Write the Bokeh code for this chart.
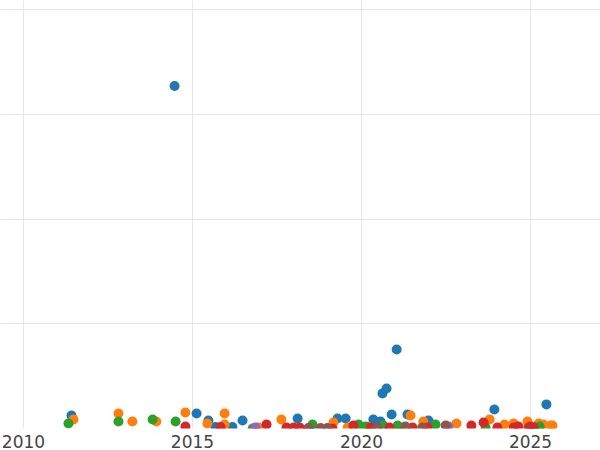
from bokeh.plotting import figure
from bokeh.models import Range1d, FixedTicker
from bokeh.embed import file_html
from bokeh.resources import INLINE

# --- data (decimal year, value) ---
blue_x = [2011.42, 2014.47, 2015.12, 2015.47, 2015.68, 2016.18, 2016.48, 2018.11, 2019.29, 2019.53,
          2020.35, 2020.56, 2020.62, 2020.74, 2020.89, 2021.04, 2021.36, 2021.98, 2023.93, 2025.47]
blue_y = [12.4, 327, 14.3, 7.6, 1.5, 1.5, 7.6, 9.6, 9.6, 9.6,
          8.6, 6.7, 33.5, 38.2, 13.4, 75.5, 13.4, 7.6, 18.2, 23]

orange_x = [2011.48, 2012.81, 2013.22, 2013.93, 2014.79, 2015.44, 2015.95, 2015.95, 2016.95, 2017.63,
            2019.17, 2019.59, 2020.21, 2021.15, 2021.45, 2021.83, 2022.81, 2023.79, 2024.23, 2024.50,
            2024.91, 2025.24, 2025.38, 2025.59, 2025.65]
orange_y = [8.6, 14.3, 6.7, 6.7, 15.3, 4.8, 14.3, 3.8, 1.0, 8.6,
            5.7, 1.0, 1.5, 1.0, 12.4, 6.7, 4.8, 8.6, 3.8, 4.8,
            6.7, 4.8, 3.8, 2.9, 2.9]

green_x = [2011.33, 2012.81, 2013.82, 2014.50, 2016.78, 2018.55, 2019.91, 2020.12, 2020.65, 2021.07,
           2022.19, 2023.67, 2025.12, 2025.27]
green_y = [4.8, 6.7, 8.6, 6.7, 0.0, 3.8, 3.8, 1.9, 2.9, 2.9,
           3.8, 1.0, 1.0, 1.9]

red_x = [2014.79, 2015.83, 2017.19, 2017.78, 2017.99, 2018.17, 2018.43, 2019.14, 2019.76, 2020.27,
         2020.83, 2021.51, 2021.95, 2023.25, 2023.61, 2024.02, 2024.50, 2024.64, 2024.94, 2025.00, 2025.09]
red_y = [1.9, 1.5, 3.8, 1.0, 1.0, 1.0, 0.0, 0.0, 2.9, 1.0,
         1.0, 1.0, 1.0, 2.9, 5.7, 1.0, 1.0, 1.9, 1.0, 1.9, 1.0]

purple_x = [2016.86, 2022.57]
purple_y = [1.0, 1.9]

brown_x = [2018.43, 2018.79, 2018.99, 2020.47, 2021.30, 2021.80, 2022.49]
brown_y = [0.5, 0.5, 0.5, 1.0, 1.9, 1.0, 2.9]

x_ticks = [2010, 2015, 2020, 2025]
y_ticks = [0, 100, 200, 300, 400]

p = figure(width=600, height=450, output_backend="svg", toolbar_location=None,
           x_range=Range1d(2009.32, 2027.07), y_range=Range1d(0, 408.6),
           min_border_left=0, min_border_right=0, min_border_top=0, min_border_bottom=0)
p.outline_line_color = None
p.background_fill_color = "white"

series = [
    (blue_x, blue_y, "#1f77b4"),
    (orange_x, orange_y, "#ff7f0e"),
    (green_x, green_y, "#2ca02c"),
    (red_x, red_y, "#d62728"),
    (purple_x, purple_y, "#9467bd"),
    (brown_x, brown_y, "#8c564b"),
]
for xs, ys, c in series:
    p.scatter(xs, ys, size=10, fill_color=c, line_color=None)

p.xaxis.ticker = FixedTicker(ticks=x_ticks)
p.yaxis.ticker = FixedTicker(ticks=y_ticks)
p.yaxis.visible = False
p.xaxis.axis_line_color = None
p.xaxis.major_tick_line_color = None
p.xaxis.minor_tick_line_color = None
p.xaxis.major_label_text_font = "DejaVu Sans"
p.xaxis.major_label_text_font_size = "17px"
p.xaxis.major_label_text_color = "#444444"
p.xaxis.major_label_standoff = 0
p.xgrid.grid_line_color = "#e6e6e6"
p.ygrid.grid_line_color = "#e6e6e6"

open("out.html", "w").write(file_html(p, INLINE))
